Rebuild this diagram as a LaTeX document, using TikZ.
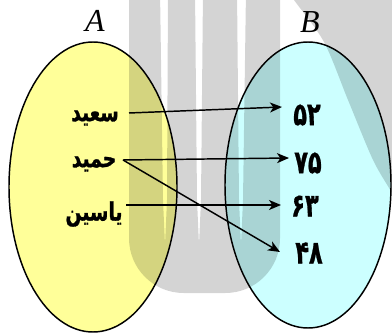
\documentclass[tikz,border=0pt]{standalone}
\usepackage{fontspec}
\usepackage{graphicx}
\usetikzlibrary{arrows.meta}
\TeXXeTstate=1
\newfontfamily\arabicheavy[Script=Arabic,FakeBold=1.2]{DejaVu Sans Bold}
\newfontfamily\latinserif{Liberation Serif}
\definecolor{setA}{HTML}{FFFF99}
\definecolor{setB}{HTML}{CCFFFF}
\newcommand{\nameTxt}[1]{\scalebox{0.74}[1]{\arabicheavy\fontsize{19}{19}\selectfont\beginR #1\endR}}
\newcommand{\numTxt}[1]{\scalebox{0.7}[1]{\arabicheavy\fontsize{24}{24}\selectfont #1}}
\tikzset{
  setlabel/.style={font=\latinserif\itshape\fontsize{24}{24}\selectfont, inner sep=0pt},
  namebox/.style={inner sep=0pt},
  numbox/.style={inner sep=0pt},
  maparrow/.style={line width=1.1pt, -{Stealth[length=9pt,width=7.5pt,inset=2.5pt]}},
  watermark/.style={fill=black, fill opacity=0.17, even odd rule},
  setborder/.style={line width=1.1pt, draw=black}
}
\begin{document}
\begin{tikzpicture}[x=0.75pt,y=-0.75pt]
\useasboundingbox (0,0) rectangle (392,334);
% set fills
\fill[setA] (93,187) ellipse [x radius=84, y radius=145];
\fill[setB] (308,185) ellipse [x radius=83, y radius=143];
% watermark
\path[watermark, rounded corners=41pt] (129,-80) -- (129,293) -- (280,293) -- (280,-80) -- cycle
  [sharp corners]
  (160,-10) -- (168,-10) -- (167,200) -- (165,245) -- (163,200) -- cycle
  (195,-10) -- (203,-10) -- (201,200) -- (199,245) -- (197,200) -- cycle
  (237,-10) -- (246,-10) -- (243,200) -- (241,245) -- (239,200) -- cycle;
\path[watermark] plot[smooth] coordinates {(288,-10) (294,0) (324,42) (348,100) (373,160) (392,193) (400,210)} -- (400,-10) -- cycle;
% set borders
\draw[setborder] (93,187) ellipse [x radius=84, y radius=145];
\draw[setborder] (308,185) ellipse [x radius=83, y radius=143];
% labels
\node[setlabel] (la) at (95,21) {A};
\node[setlabel] (lb) at (310,22) {B};
% names
\node[namebox] (s) at (95,118) {\nameTxt{سعید}};
\node[namebox] (h) at (94,164) {\nameTxt{حمید}};
\node[namebox] (y) at (94,214) {\nameTxt{یاسین}};
% numbers
\node[numbox] (n52) at (307,115) {\numTxt{۵۲}};
\node[numbox] (n75) at (308,163) {\numTxt{۷۵}};
\node[numbox] (n63) at (305,206) {\numTxt{۶۳}};
\node[numbox] (n48) at (309,253) {\numTxt{۴۸}};
% arrow ends
\coordinate (s-out) at (129,113);
\coordinate (h-out) at (123,160);
\coordinate (y-out) at (126,205);
\coordinate (n52-in) at (282,107);
\coordinate (n75-in) at (289,158);
\coordinate (n63-in) at (281,205);
\coordinate (n48-in) at (280,252);
\draw[maparrow] (s-out) -- (n52-in);
\draw[maparrow] (h-out) -- (n75-in);
\draw[maparrow] (h-out) -- (n48-in);
\draw[maparrow] (y-out) -- (n63-in);
\end{tikzpicture}
\end{document}
